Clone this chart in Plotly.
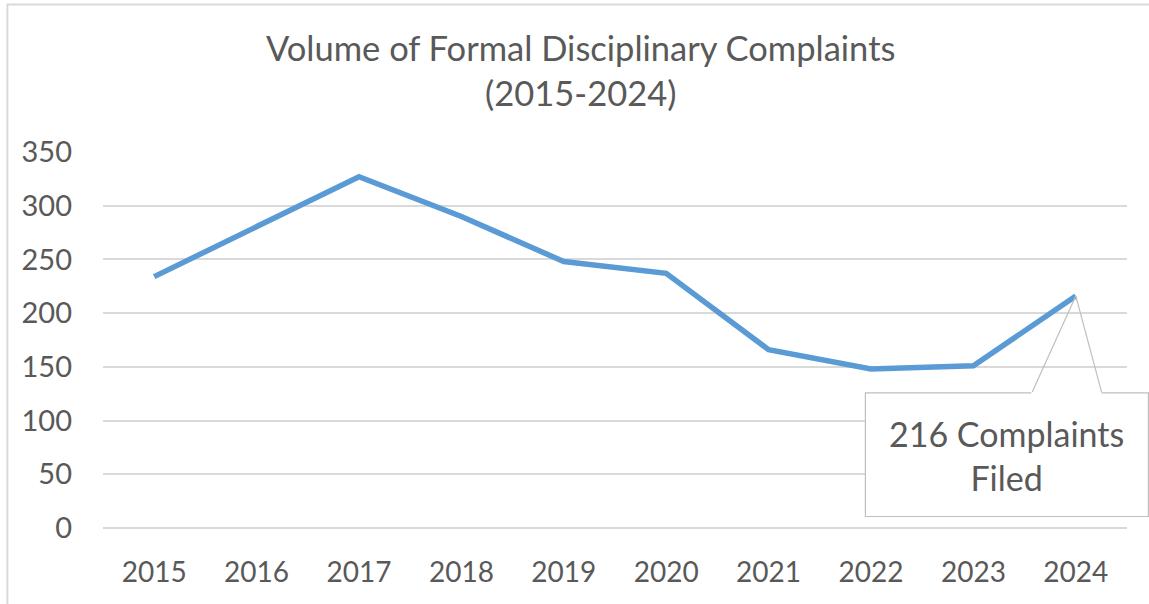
import plotly.graph_objects as go

years = ["2015", "2016", "2017", "2018", "2019", "2020", "2021", "2022", "2023", "2024"]
complaints = [234, 280, 327, 290, 248, 237, 166, 148, 151, 216]
y_ticks = [0, 50, 100, 150, 200, 250, 300, 350]
title_lines = ["Volume of Formal Disciplinary Complaints", "(2015-2024)"]
callout_lines = [f"{complaints[-1]} Complaints", "Filed"]

FONT = "Lato, Open Sans, sans-serif"
TXT = "#595959"
GRID = "#D9D9D9"
CALLOUT = "#BFBFBF"

fig = go.Figure()
fig.add_trace(go.Scatter(
    x=years, y=complaints, mode="lines",
    line=dict(color="#5B9BD5", width=5.5),
    hoverinfo="x+y", showlegend=False,
))

W, H = 1149, 604
L, R, T, B = 102.6, 22.4, 151.7, 75.5
pw, ph = W - L - R, H - T - B

def px(xp):
    return (xp - L) / pw

def py(yp):
    return (H - B - yp) / ph

last_idx = len(years) - 1

shapes = [
    # chart outer border (left and top visible)
    dict(type="path", xref="paper", yref="paper",
         path=f"M {px(7)},{py(610)} L {px(7)},{py(4)} L {px(1160)},{py(4)}",
         line=dict(color=GRID, width=2), layer="below"),
    # callout box with gap for the wedge
    dict(type="path", xref="paper", yref="paper",
         path=(f"M {px(1031)},{py(393)} L {px(865)},{py(393)} L {px(865)},{py(517)} "
               f"L {px(1148)},{py(517)} L {px(1148)},{py(393)} L {px(1101)},{py(393)}"),
         line=dict(color=CALLOUT, width=1.2), fillcolor="white", layer="above"),
]

annotations = [
    # wedge lines of the callout, pointing at the last data point
    dict(x=last_idx, y=complaints[-1], xref="x", yref="y", text=" ",
         showarrow=True, arrowhead=0, arrowwidth=1.2, arrowcolor=CALLOUT,
         ax=-44, ay=97, standoff=0, startstandoff=0,
         font=dict(size=1), borderpad=0, bgcolor="rgba(0,0,0,0)"),
    dict(x=last_idx, y=complaints[-1], xref="x", yref="y", text=" ",
         showarrow=True, arrowhead=0, arrowwidth=1.2, arrowcolor=CALLOUT,
         ax=26, ay=97, standoff=0, startstandoff=0,
         font=dict(size=1), borderpad=0, bgcolor="rgba(0,0,0,0)"),
    dict(x=px(1006), y=py(456), xref="paper", yref="paper",
         text="<br>".join(callout_lines), showarrow=False,
         font=dict(family=FONT, size=34, color=TXT),
         xanchor="center", yanchor="middle", align="center"),
    dict(x=px(580), y=py(70), xref="paper", yref="paper",
         text="<br>".join(title_lines), showarrow=False,
         font=dict(family=FONT, size=34.5, color=TXT),
         xanchor="center", yanchor="middle", align="center"),
]

fig.update_layout(
    width=W, height=H,
    margin=dict(l=L, r=R, t=T, b=B, pad=0),
    paper_bgcolor="white", plot_bgcolor="white",
    font=dict(family=FONT, color=TXT),
    shapes=shapes, annotations=annotations,
    xaxis=dict(type="category", range=[-0.5, len(years) - 0.5],
               showgrid=False, showline=False, zeroline=False,
               tickfont=dict(family=FONT, size=28, color=TXT),
               ticks="", ticklabelstandoff=25, fixedrange=True),
    yaxis=dict(range=[0, 350], tickvals=y_ticks,
               showgrid=True, gridcolor=GRID, gridwidth=1.6,
               zeroline=True, zerolinecolor=GRID, zerolinewidth=1.6,
               showline=False,
               tickfont=dict(family=FONT, size=29, color=TXT),
               ticks="", ticklabelstandoff=30, fixedrange=True),
)

fig.write_html(
    "out.html",
    config={"displayModeBar": False, "staticPlot": False},
    post_script="document.body.style.margin='0';document.body.style.overflow='hidden';",
)
